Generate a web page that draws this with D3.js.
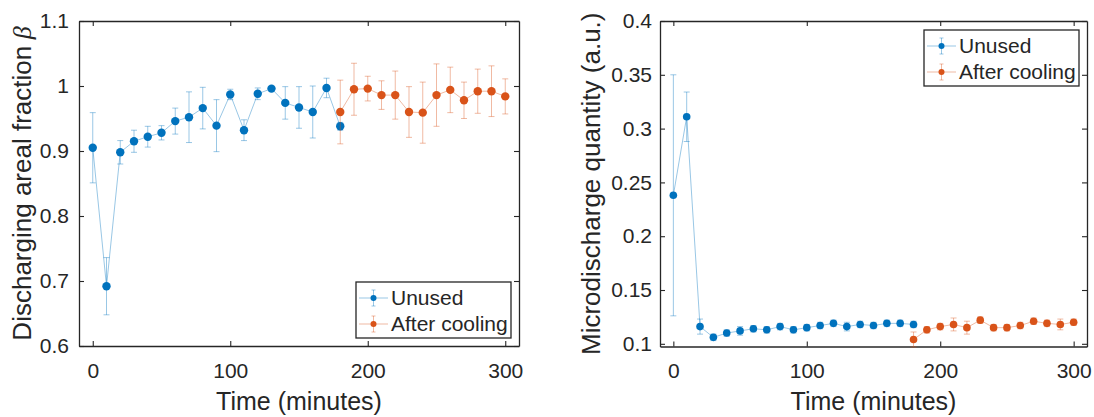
<!DOCTYPE html>
<html>
<head>
<meta charset="utf-8">
<script src="https://cdn.jsdelivr.net/npm/d3@7"></script>
<style>
  body { margin: 0; background: #fff; }
  svg text { font-family: "Liberation Sans", Arial, sans-serif; fill: #262626; }
</style>
</head>
<body>
<svg id="chart" width="1094" height="417"></svg>
<script>
// data
const minutesUnused = [0, 10, 20, 30, 40, 50, 60, 70, 80, 90, 100, 110, 120, 130, 140, 150, 160, 170, 180]
const minutesCooling = [180, 190, 200, 210, 220, 230, 240, 250, 260, 270, 280, 290, 300]

const betaUnused = [0.905, 0.692, 0.898, 0.915, 0.922, 0.928, 0.946, 0.952, 0.966, 0.939, 0.987, 0.932, 0.988,
  0.996, 0.974, 0.967, 0.960, 0.997, 0.938]
const betaUnusedErr = [0.054, 0.044, 0.018, 0.017, 0.016, 0.011, 0.020, 0.039, 0.032, 0.040, 0.008, 0.016, 0.009,
  0.003, 0.025, 0.032, 0.040, 0.015, 0.006]
const betaCooling = [0.960, 0.995, 0.996, 0.986, 0.986, 0.960, 0.959, 0.986, 0.994, 0.978, 0.992, 0.992, 0.984]
const betaCoolingErr = [0.049, 0.040, 0.019, 0.022, 0.037, 0.039, 0.047, 0.048, 0.035, 0.028, 0.034, 0.039, 0.027]

const qUnused = [0.238, 0.311, 0.116, 0.106, 0.110, 0.112, 0.114, 0.113, 0.116, 0.113, 0.115, 0.117, 0.119,
  0.116, 0.118, 0.117, 0.119, 0.119, 0.118]
const qUnusedErr = [0.112, 0.023, 0.007, 0.003, 0.003, 0.004, 0.003, 0.003, 0.003, 0.003, 0.003, 0.003, 0.003,
  0.004, 0.003, 0.003, 0.003, 0.003, 0.003]
const qCooling = [0.104, 0.113, 0.116, 0.118, 0.115, 0.122, 0.115, 0.115, 0.117, 0.121, 0.119, 0.118, 0.120]
const qCoolingErr = [0.007, 0.003, 0.003, 0.006, 0.006, 0.003, 0.003, 0.003, 0.003, 0.003, 0.003, 0.005, 0.003]

const xTicks = [0, 100, 200, 300]
const betaTicks = [0.6, 0.7, 0.8, 0.9, 1, 1.1]
const qTicks = [0.1, 0.15, 0.2, 0.25, 0.3, 0.35, 0.4]
const legendLabels = ["Unused", "After cooling"]

const BLUE = "#0072BD"
const ORANGE = "#D95319"
const AXIS = "#262626"

const svg = d3.select("#chart")

function make_panel(opt) {
  const x = d3.scaleLinear().domain([-10, 310]).range([opt.left, opt.right])
  const y = d3.scaleLinear().domain(opt.yDomain).range([opt.bottom, opt.top])
  const g = svg.append("g")

  // axes, ticks inside, box on
  g.append("g")
    .attr("transform", "translate(0," + opt.bottom + ")")
    .call(d3.axisBottom(x).tickValues(xTicks).tickSize(-5).tickSizeOuter(0).tickPadding(17))
  g.append("g")
    .attr("transform", "translate(0," + opt.top + ")")
    .call(d3.axisTop(x).tickValues(xTicks).tickSize(-5).tickSizeOuter(0).tickFormat(""))
  g.append("g")
    .attr("transform", "translate(" + opt.left + ",0)")
    .call(d3.axisLeft(y).tickValues(opt.yTicks).tickSize(-5).tickSizeOuter(0).tickPadding(opt.yPad)
      .tickFormat(d3.format("")))
  g.append("g")
    .attr("transform", "translate(" + opt.right + ",0)")
    .call(d3.axisRight(y).tickValues(opt.yTicks).tickSize(-5).tickSizeOuter(0).tickFormat(""))

  g.selectAll(".domain").attr("stroke", AXIS).attr("stroke-width", 1.3)
  g.selectAll(".tick line").attr("stroke", AXIS).attr("stroke-width", 1.1)
  g.selectAll(".tick text").attr("font-size", 21).attr("fill", AXIS)

  // series
  const series = [
    {xs: minutesUnused, ys: opt.unused, es: opt.unusedErr, color: BLUE},
    {xs: minutesCooling, ys: opt.cooling, es: opt.coolingErr, color: ORANGE}
  ]
  series.forEach(function(s) {
    const pts = s.xs.map(function(m, i) { return {m: m, v: s.ys[i], e: s.es[i]} })
    const sg = g.append("g")
    sg.append("path")
      .datum(pts)
      .attr("fill", "none")
      .attr("stroke", s.color)
      .attr("stroke-opacity", 0.4)
      .attr("stroke-width", 1)
      .attr("d", d3.line().x(function(d) { return x(d.m) }).y(function(d) { return y(d.v) }))
    const eb = sg.selectAll(".eb").data(pts).enter().append("g")
      .attr("stroke", s.color)
      .attr("stroke-opacity", 0.4)
      .attr("stroke-width", 1)
    eb.append("line")
      .attr("x1", function(d) { return x(d.m) }).attr("x2", function(d) { return x(d.m) })
      .attr("y1", function(d) { return y(d.v - d.e) }).attr("y2", function(d) { return y(d.v + d.e) })
    eb.append("line")
      .attr("x1", function(d) { return x(d.m) - 3 }).attr("x2", function(d) { return x(d.m) + 3 })
      .attr("y1", function(d) { return y(d.v + d.e) }).attr("y2", function(d) { return y(d.v + d.e) })
    eb.append("line")
      .attr("x1", function(d) { return x(d.m) - 3 }).attr("x2", function(d) { return x(d.m) + 3 })
      .attr("y1", function(d) { return y(d.v - d.e) }).attr("y2", function(d) { return y(d.v - d.e) })
    sg.selectAll("circle").data(pts).enter().append("circle")
      .attr("cx", function(d) { return x(d.m) })
      .attr("cy", function(d) { return y(d.v) })
      .attr("r", opt.r)
      .attr("fill", s.color)
  })

  // axis labels
  g.append("text")
    .attr("x", (opt.left + opt.right) / 2)
    .attr("y", 410)
    .attr("text-anchor", "middle")
    .attr("font-size", 25)
    .text("Time (minutes)")
  const yl = g.append("text")
    .attr("transform", "translate(" + opt.yLabelX + "," + (opt.top + opt.bottom) / 2 + ") rotate(-90)")
    .attr("text-anchor", "middle")
    .attr("font-size", 26)
  yl.append("tspan").text(opt.yLabel)
  if (opt.beta) {
    yl.append("tspan")
      .attr("font-family", "'Liberation Serif', serif")
      .attr("font-style", "italic")
      .text(" \u03B2")
  }

  // legend
  const lg = g.append("g")
  lg.append("rect")
    .attr("x", opt.legend[0]).attr("y", opt.legend[1])
    .attr("width", 155).attr("height", 56)
    .attr("fill", "#fff")
    .attr("stroke", AXIS)
    .attr("stroke-width", 1.3)
  legendLabels.forEach(function(lab, i) {
    const c = i === 0 ? BLUE : ORANGE
    const cy = opt.legend[1] + 16 + i * 26
    const lx = opt.legend[0] + 3
    const row = lg.append("g")
    row.append("line")
      .attr("x1", lx).attr("x2", lx + 29).attr("y1", cy).attr("y2", cy)
      .attr("stroke", c).attr("stroke-opacity", 0.4)
    row.append("line")
      .attr("x1", lx + 14.5).attr("x2", lx + 14.5).attr("y1", cy - 8).attr("y2", cy + 8)
      .attr("stroke", c).attr("stroke-opacity", 0.4)
    row.append("line")
      .attr("x1", lx + 12.5).attr("x2", lx + 16.5).attr("y1", cy - 8).attr("y2", cy - 8)
      .attr("stroke", c).attr("stroke-opacity", 0.4)
    row.append("line")
      .attr("x1", lx + 12.5).attr("x2", lx + 16.5).attr("y1", cy + 8).attr("y2", cy + 8)
      .attr("stroke", c).attr("stroke-opacity", 0.4)
    row.append("circle")
      .attr("cx", lx + 14.5).attr("cy", cy).attr("r", 3)
      .attr("fill", c)
    row.append("text")
      .attr("x", lx + 32).attr("y", cy)
      .attr("dy", "0.35em")
      .attr("font-size", 21)
      .attr("fill", "#000")
      .text(lab)
  })
}

make_panel({
  left: 79, right: 519, top: 21, bottom: 346,
  yDomain: [0.6, 1.1], yTicks: betaTicks, yPad: 10,
  unused: betaUnused, unusedErr: betaUnusedErr,
  cooling: betaCooling, coolingErr: betaCoolingErr,
  r: 4.2, yLabel: "Discharging areal fraction", beta: true, yLabelX: 31,
  legend: [356, 282]
})

make_panel({
  left: 660, right: 1087, top: 21, bottom: 346.5,
  yDomain: [0.0975, 0.4], yTicks: qTicks, yPad: 8,
  unused: qUnused, unusedErr: qUnusedErr,
  cooling: qCooling, coolingErr: qCoolingErr,
  r: 3.8, yLabel: "Microdischarge quantity (a.u.)", beta: false, yLabelX: 600,
  legend: [924, 30]
})
</script>
</body>
</html>
